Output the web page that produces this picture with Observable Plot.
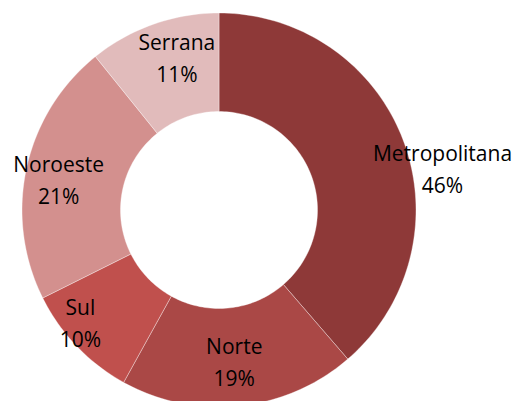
<!DOCTYPE html>
<html><head><meta charset="utf-8">
<script src="https://cdn.jsdelivr.net/npm/d3@7"></script>
<script src="https://cdn.jsdelivr.net/npm/@observablehq/plot@0.6"></script>
<style>html,body{margin:0;padding:0;background:#fff;overflow:hidden}</style>
</head><body><div id="chart"></div>
<script>
// Data (slice sizes as drawn; printed labels as shown)
const regions = ["Metropolitana", "Norte", "Sul", "Noroeste", "Serrana"];
const shares = [38.7, 19.4, 9.6, 21.6, 10.8];
const percentLabels = ["46%", "19%", "10%", "21%", "11%"];
const colors = ["#8E3938", "#AA4846", "#C0504D", "#D3908E", "#E1BBBB"];

// Layout
const W = 515, H = 401, cx = 218.5, cy = 209.5, R = 197, innerRatio = 0.5;
const labelNudge = [[85, 8], [0, 3], [-32, 9], [-16, -1], [7, -15]]; // px offsets from ring mid-point

const data = regions.map((region, i) => ({region, share: shares[i], label: percentLabels[i], nudge: labelNudge[i]}));
const arcs = d3.pie().sort(null).value(d => d.share).startAngle(0).endAngle(2 * Math.PI)(data);

const pts = [];
arcs.forEach(a => {
  const n = Math.max(4, Math.ceil(120 * (a.endAngle - a.startAngle) / Math.PI));
  const ang = k => a.startAngle + (a.endAngle - a.startAngle) * k / n;
  for (let k = 0; k <= n; k++) pts.push({region: a.data.region, x: Math.sin(ang(k)), y: Math.cos(ang(k))});
  for (let k = n; k >= 0; k--) pts.push({region: a.data.region, x: innerRatio * Math.sin(ang(k)), y: innerRatio * Math.cos(ang(k))});
  pts.push({region: a.data.region, x: Math.sin(ang(0)), y: Math.cos(ang(0))});
});

const labs = arcs.map(a => {
  const m = (a.startAngle + a.endAngle) / 2, r = (1 + innerRatio) / 2;
  return {text: a.data.region + "\n" + a.data.label,
          x: r * Math.sin(m) + a.data.nudge[0] / R,
          y: r * Math.cos(m) - a.data.nudge[1] / R};
});

const chart = Plot.plot({
  width: W, height: H, margin: 0,
  x: {domain: [-cx / R, (W - cx) / R], axis: null},
  y: {domain: [-(H - cy) / R, cy / R], axis: null},
  color: {domain: regions, range: colors},
  style: {background: "#fff"},
  marks: [
    Plot.line(pts, {x: "x", y: "y", z: "region", fill: "region", stroke: "#ffffff", strokeWidth: 0.8, strokeOpacity: 0.45, curve: "linear"}),
    Plot.text(labs, {x: "x", y: "y", text: "text", fontSize: 21, fontFamily: "Open Sans", fill: "#000", lineHeight: 32 / 21, lineAnchor: "middle", textAnchor: "middle"})
  ]
});
document.getElementById("chart").appendChild(chart);
</script>
</body></html>
